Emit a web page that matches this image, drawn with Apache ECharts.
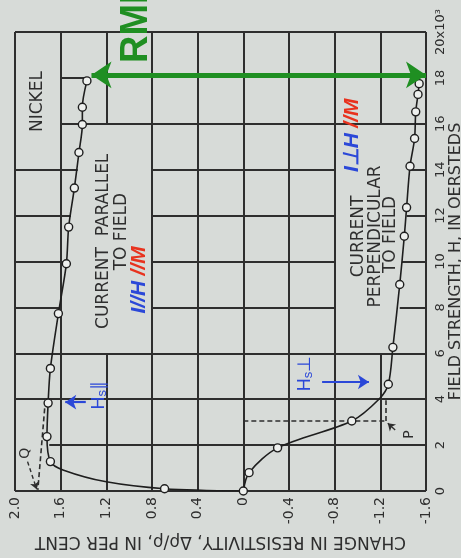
<!DOCTYPE html>
<html><head><meta charset="utf-8">
<script src="https://cdn.jsdelivr.net/npm/echarts@6/dist/echarts.min.js"></script>
<style>html,body{margin:0;padding:0;background:#d7dbd8}#c{width:461px;height:558px}</style>
</head><body><div id="c"></div>
<script>
// ---------- data ----------
const rhoTickLabels = ['-1.6','-1.2','-0.8','-0.4','0','0.4','0.8','1.2','1.6','2.0'];
const fieldTickLabels = ['0','2','4','6','8','10','12','14','16','18','20x10³'];

const parallelField = [0, 0.10, 0.40, 0.92, 1.28, 2.37, 3.83, 5.34, 7.73, 9.9, 11.5, 13.2, 14.75, 15.97, 16.72, 17.87];
const parallelRho   = [0, 0.69, 1.20, 1.58, 1.69, 1.72, 1.71, 1.69, 1.62, 1.55, 1.53, 1.48, 1.44, 1.41, 1.41, 1.37];
const parallelMarked= [0, 1,    0,    0,    1,    1,    1,    1,    1,    1,    1,    1,    1,    1,    1,    1];

const perpField = [0, 0.80, 1.88, 3.05, 4.01, 4.65, 6.26, 9.0, 11.1, 12.35, 14.15, 15.36, 16.52, 17.28, 17.75];
const perpRho   = [0, -0.05, -0.30, -0.95, -1.19, -1.27, -1.31, -1.37, -1.41, -1.43, -1.46, -1.50, -1.51, -1.53, -1.54];
const perpMarked= [1, 1, 1, 1, 0, 1, 1, 1, 1, 1, 1, 1, 1, 1, 1];

// printed grid of the original chart sheet: [rho, H from, H to] and [H, rho from, rho to]
const verticalRules = [[2.0,0,20],[1.6,0,20],[1.2,0,6],[1.2,16,20],[0.8,0,20],[0.4,0,20],[0,0,20],
  [-0.4,0,20],[-0.8,0,20],[-1.2,0,6],[-1.2,16,20],[-1.6,0,20]];
const horizontalRules = [[0,2.0,-1.6],[2,1.70,-1.6],[4,2.0,-1.6],[6,2.0,-1.6],
  [8,2.0,1.6],[8,0.8,-0.8],[8,-1.37,-1.6],
  [10,2.0,1.55],[10,0.8,-0.8],[10,-1.39,-1.6],
  [12,2.0,1.51],[12,0.8,-0.8],[12,-1.43,-1.6],
  [14,2.0,1.45],[14,0.8,-0.8],[14,-1.46,-1.6],
  [16,1.6,-1.6],[18,1.6,1.37],[20,2.0,-1.6]];

// dashed construction lines (P and Q)
const dashedLines = [[[0,3.05],[-1.25,3.05]],[[-1.25,3.05],[-1.25,3.95]],[[1.74,3.6],[1.80,0.05]]];
const dashedArrows = [[[1.89,1.28],[1.81,0.08]]];
const pointerArrows = [[[-1.33,2.66],[-1.265,2.95]]];
const blueArrows = [[[1.38,3.87],[1.56,3.87]],[[-0.69,4.75],[-1.10,4.75]]];
const greenArrow = [[[1.33,18.13],[-1.6,18.13]]];

// ---------- chart ----------
const INK = '#2e2e2e';
const FONT = '"DejaVu Sans", sans-serif';
const chart = echarts.init(document.getElementById('c'), null, {renderer:'canvas'});

function curve(fields, rhos, marked){
  return fields.map((h,i)=>({value:[rhos[i],h], symbol: marked[i] ? 'circle' : 'none'}));
}
function segs(list){ return list.map(s=>({coords:s})); }

const option = {
  backgroundColor:'#d7dbd8',
  animation:false,
  grid:{left:15,right:35,top:32,bottom:67,containLabel:false,outerBoundsMode:'none'},
  xAxis:{type:'value',min:-1.6,max:2.0,interval:0.4,inverse:true,
    axisLine:{show:false},axisTick:{show:false},splitLine:{show:false},
    axisLabel:{rotate:90,margin:6,color:INK,fontFamily:FONT,fontSize:14,
      formatter:(v)=>rhoTickLabels[Math.round((v+1.6)/0.4)]},
    name:'CHANGE IN RESISTIVITY, \u0394\u03c1/\u03c1, IN PER CENT',nameLocation:'middle',nameGap:42,nameRotate:180,
    nameMoveOverlap:false,
    nameTextStyle:{color:INK,fontFamily:FONT,fontSize:17}},
  yAxis:{type:'value',min:0,max:20,interval:2,position:'right',
    axisLine:{show:false},axisTick:{show:false},splitLine:{show:false},
    axisLabel:{rotate:90,margin:8,color:INK,fontFamily:FONT,fontSize:13,
      formatter:(v)=>fieldTickLabels[Math.round(v/2)]},
    name:'FIELD STRENGTH, H, IN OERSTEDS',nameLocation:'middle',nameGap:22,nameRotate:90,
    nameMoveOverlap:false,
    nameTextStyle:{color:INK,fontFamily:FONT,fontSize:16}},
  series:[
    {type:'lines',coordinateSystem:'cartesian2d',silent:true,z:1,
      data:segs(verticalRules.map(r=>[[r[0],r[1]],[r[0],r[2]]]).concat(horizontalRules.map(r=>[[r[1],r[0]],[r[2],r[0]]]))),
      lineStyle:{color:INK,width:2,opacity:1}},
    {type:'lines',coordinateSystem:'cartesian2d',silent:true,z:2,
      data:segs(dashedLines),lineStyle:{color:INK,width:1.6,type:[5,3],opacity:1}},
    {type:'lines',coordinateSystem:'cartesian2d',silent:true,z:2,symbol:['none','arrow'],symbolSize:7,
      data:segs(dashedArrows),lineStyle:{color:INK,width:1.4,type:[4,3],opacity:1}},
    {type:'lines',coordinateSystem:'cartesian2d',silent:true,z:2,symbol:['none','arrow'],symbolSize:7,
      data:segs(pointerArrows),lineStyle:{color:INK,width:1.4,opacity:1}},
    {name:'Current parallel to field',type:'line',smooth:0.3,z:3,data:curve(parallelField,parallelRho,parallelMarked),
      symbolSize:8,lineStyle:{color:'#1e1e1e',width:1.6},itemStyle:{color:'#eef0ee',borderColor:'#1e1e1e',borderWidth:1.4}},
    {name:'Current perpendicular to field',type:'line',smooth:0.3,z:3,data:curve(perpField,perpRho,perpMarked),
      symbolSize:8,lineStyle:{color:'#1e1e1e',width:1.6},itemStyle:{color:'#eef0ee',borderColor:'#1e1e1e',borderWidth:1.4}},
    {type:'lines',coordinateSystem:'cartesian2d',silent:true,z:4,symbol:['none','arrow'],symbolSize:11,
      data:segs(blueArrows),lineStyle:{color:'#2b48d8',width:2.2,opacity:1}},
    {type:'lines',coordinateSystem:'cartesian2d',silent:true,z:5,symbol:['arrow','arrow'],symbolSize:20,
      data:segs(greenArrow),lineStyle:{color:'#1f8f22',width:5,opacity:1}}
  ]
};
chart.setOption(option);

// ---------- text annotations, placed in data coordinates ----------
const px = (p)=>chart.convertToPixel({gridIndex:0}, p);
function label(at, text, extra){
  const p = px(at);
  return Object.assign({type:'text', x:p[0], y:p[1], rotation:Math.PI/2, z:10,
    style:Object.assign({text:text, fill:INK, font:'17px '+FONT, textAlign:'center', textVerticalAlign:'middle', align:'center', verticalAlign:'middle'}, extra||{})});
}
const blue = '#2b48d8', red = '#e8321e';
const HAND = 'italic bold 21px "Liberation Sans", sans-serif';
const graphics = [
  label([1.80,16.97],'NICKEL'),
  label([1.22,10.88],'CURRENT  PARALLEL'),
  label([1.07,11.3],'TO FIELD'),
  label([-1.01,11.09],'CURRENT'),
  label([-1.16,11.09],'PERPENDICULAR'),
  label([-1.29,11.18],'TO FIELD'),
  label([0.91,9.2],'{b|I//H} {r|//M}',{rich:{b:{fill:blue,font:HAND},r:{fill:red,font:HAND}}}),
  label([-0.95,15.5],'{b|I\u22a5H} {r|//M}',{rich:{b:{fill:blue,font:HAND},r:{fill:red,font:HAND}}}),
  label([1.26,4.17],'{h|H}{s|s}{h|\u2225}',{rich:{h:{fill:blue,font:'18px "Liberation Sans", sans-serif'},s:{fill:blue,font:'13px "Liberation Sans", sans-serif',padding:[6,0,0,0]}}}),
  label([-0.54,5.12],'{h|H}{s|s}{h|\u22a5}',{rich:{h:{fill:blue,font:'18px "Liberation Sans", sans-serif'},s:{fill:blue,font:'13px "Liberation Sans", sans-serif',padding:[6,0,0,0]}}}),
  label([-1.45,2.46],'P',{font:'14px '+FONT}),
  label([1.91,1.65],'Q',{font:'14px '+FONT}),
  label([0.94,18.65],'RMI',{fill:'#1f8f22',font:'bold 38px "Liberation Sans", sans-serif',textAlign:'left',align:'left'})
];
chart.setOption({graphic:{elements:graphics}});
</script></body></html>
